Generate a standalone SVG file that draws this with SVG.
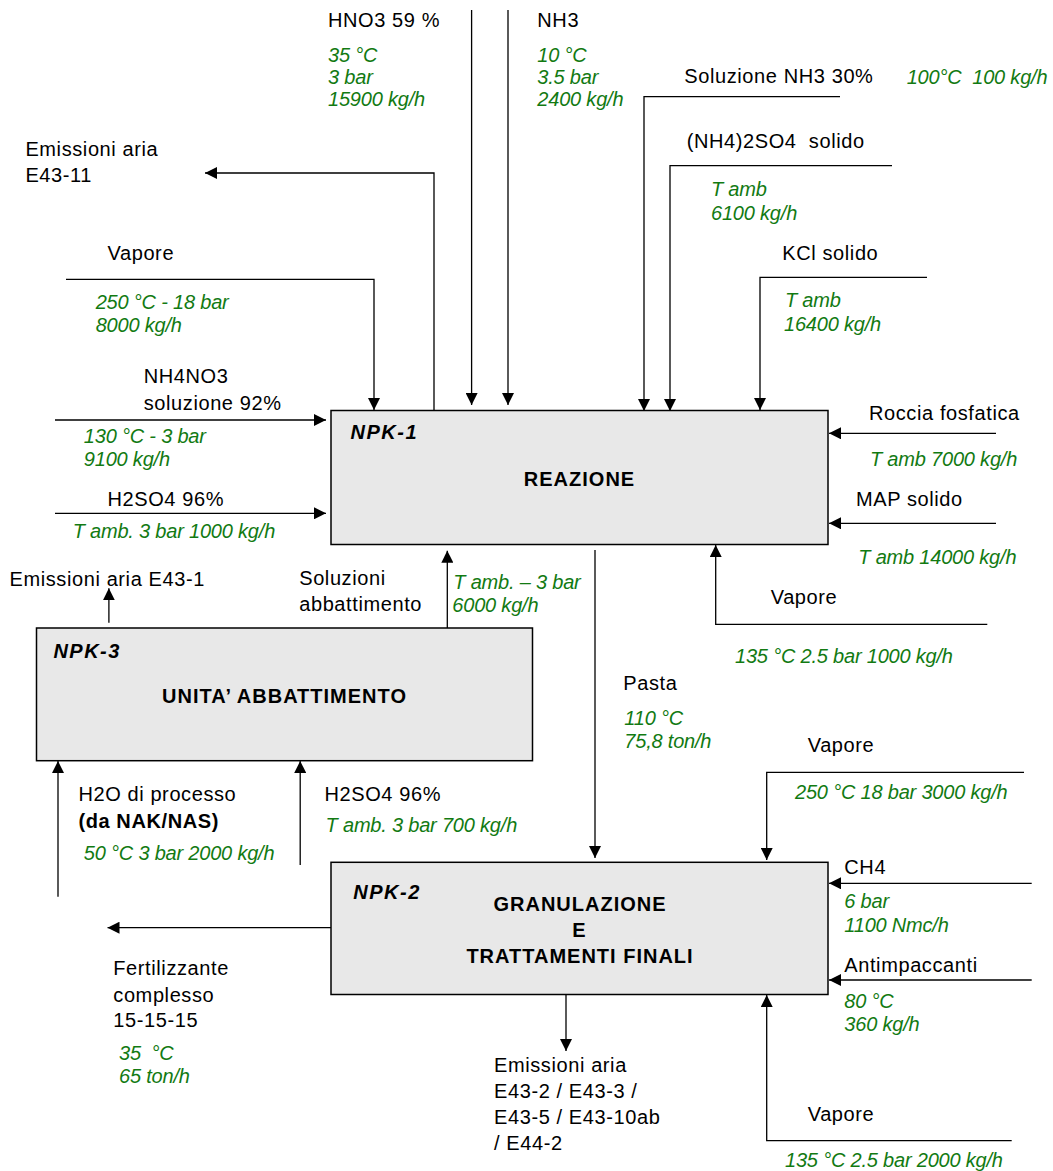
<svg xmlns="http://www.w3.org/2000/svg" width="1053" height="1171" viewBox="0 0 1053 1171">
<style>
text{font-family:'Liberation Sans',Arial,sans-serif;font-size:20px;fill:#000;white-space:pre}
.t{letter-spacing:0.6px}
.g{fill:#127a12;font-style:italic;letter-spacing:-0.2px}
.id{font-weight:bold;font-style:italic;letter-spacing:1.5px}
.b{font-weight:bold;letter-spacing:1px}
.box{fill:#e8e8e8;stroke:#000;stroke-width:1.5}
.c{fill:none;stroke:#000;stroke-width:1.3}
.a{marker-end:url(#ah)}
</style>
<defs>
<marker id="ah" markerUnits="userSpaceOnUse" markerWidth="12" markerHeight="12" refX="12" refY="6" orient="auto">
<path d="M0,0 L12,6 L0,12 z" fill="#000"/>
</marker>
</defs>
<rect width="1053" height="1171" fill="#fff"/>

<g id="connectors">
<polyline class="c a" points="471.6,10 471.6,405"/>
<polyline class="c a" points="508,10 508,405"/>
<polyline class="c a" points="434,410 434,173 205,173"/>
<polyline class="c a" points="66,279.3 374,279.3 374,410"/>
<polyline class="c a" points="55,420 326,420"/>
<polyline class="c a" points="55,513.3 326,513.3"/>
<polyline class="c a" points="840,96.7 644,96.7 644,411"/>
<polyline class="c a" points="892,165.7 670,165.7 670,411"/>
<polyline class="c a" points="927,277.3 760,277.3 760,410"/>
<polyline class="c a" points="996,433.3 829,433.3"/>
<polyline class="c a" points="996,523.3 829,523.3"/>
<polyline class="c a" points="987.3,624.3 715.7,624.3 715.7,545"/>
<polyline class="c a" points="447.3,628 447.3,550.7"/>
<polyline class="c a" points="108.9,622.7 108.9,588.3"/>
<polyline class="c a" points="58,896.7 58,761"/>
<polyline class="c a" points="300.2,865 300.2,761"/>
<polyline class="c a" points="595,550 595,858"/>
<polyline class="c a" points="331,927.7 107.5,927.7"/>
<polyline class="c a" points="1024,772.3 766.7,772.3 766.7,860"/>
<polyline class="c a" points="1031.7,883.3 829,883.3"/>
<polyline class="c a" points="1031.7,980 829,980"/>
<polyline class="c a" points="1011.7,1140.7 766.7,1140.7 766.7,995"/>
<polyline class="c a" points="566,995 566,1051"/>
</g>

<g id="NPK-1">
<rect class="box" x="331" y="410.5" width="497" height="134"/>
<text class="id" x="350.5" y="439">NPK-1</text>
<text class="b" x="579.5" y="486" text-anchor="middle">REAZIONE</text>
</g>

<g id="NPK-3">
<rect class="box" x="36.5" y="628" width="496" height="132.7"/>
<text class="id" x="53.4" y="658.3">NPK-3</text>
<text class="b" x="284.5" y="702.7" text-anchor="middle">UNITA’ ABBATTIMENTO</text>
</g>

<g id="NPK-2">
<rect class="box" x="331" y="862.3" width="497" height="132.2"/>
<text class="id" x="353.3" y="898.5">NPK-2</text>
<text class="b" x="580" y="911" text-anchor="middle">GRANULAZIONE</text>
<text class="b" x="579.5" y="936.7" text-anchor="middle">E</text>
<text class="b" x="580" y="962.7" text-anchor="middle">TRATTAMENTI FINALI</text>
</g>

<g id="labels">
<text class="t" x="328" y="27.3">HNO3 59 %</text>
<text class="g" x="328" y="61.7">35 °C</text>
<text class="g" x="328" y="84">3 bar</text>
<text class="g" x="328" y="106.3">15900 kg/h</text>

<text class="t" x="537.3" y="27.3">NH3</text>
<text class="g" x="537.3" y="61.7">10 °C</text>
<text class="g" x="537.3" y="84">3.5 bar</text>
<text class="g" x="537.3" y="106.3">2400 kg/h</text>

<text class="t" x="684.3" y="83.3">Soluzione NH3 30%</text>
<text class="g" x="906.7" y="84">100°C  100 kg/h</text>

<text class="t" x="686.7" y="147.7">(NH4)2SO4  solido</text>
<text class="g" x="711" y="196">T amb</text>
<text class="g" x="711" y="220">6100 kg/h</text>

<text class="t" x="782.3" y="260">KCl solido</text>
<text class="g" x="785" y="306.5">T amb</text>
<text class="g" x="784" y="330.7">16400 kg/h</text>

<text class="t" x="25.4" y="156">Emissioni aria</text>
<text class="t" x="25.4" y="181.7">E43-11</text>

<text class="t" x="107.5" y="260">Vapore</text>
<text class="g" x="95.7" y="309">250 °C - 18 bar</text>
<text class="g" x="95.7" y="331.7">8000 kg/h</text>

<text class="t" x="143.7" y="383.3">NH4NO3</text>
<text class="t" x="143.7" y="410">soluzione 92%</text>
<text class="g" x="83.8" y="443.3">130 °C - 3 bar</text>
<text class="g" x="83.8" y="466">9100 kg/h</text>

<text class="t" x="107.5" y="506">H2SO4 96%</text>
<text class="g" x="72.7" y="538.3">T amb. 3 bar 1000 kg/h</text>

<text class="t" x="869" y="420">Roccia fosfatica</text>
<text class="g" x="870" y="465.7">T amb 7000 kg/h</text>
<text class="t" x="856" y="506">MAP solido</text>
<text class="g" x="858.3" y="564">T amb 14000 kg/h</text>

<text class="t" x="770.7" y="604">Vapore</text>
<text class="g" x="735" y="663.3">135 °C 2.5 bar 1000 kg/h</text>

<text class="t" x="9.5" y="586">Emissioni aria E43-1</text>
<text class="t" x="299.2" y="585">Soluzioni</text>
<text class="t" x="299.2" y="611">abbattimento</text>
<text class="g" x="453.3" y="589.3">T amb. – 3 bar</text>
<text class="g" x="452.3" y="612.3">6000 kg/h</text>

<text class="t" x="623.3" y="690">Pasta</text>
<text class="g" x="624.3" y="725">110 °C</text>
<text class="g" x="624.3" y="748.3">75,8 ton/h</text>

<text class="t" x="78.4" y="800.7">H2O di processo</text>
<text class="t" x="78.4" y="827.7" font-weight="bold">(da NAK/NAS)</text>
<text class="g" x="83.8" y="860">50 °C 3 bar 2000 kg/h</text>
<text class="t" x="324.5" y="800.7">H2SO4 96%</text>
<text class="g" x="325.6" y="831.7">T amb. 3 bar 700 kg/h</text>

<text class="t" x="807.7" y="752.3">Vapore</text>
<text class="g" x="795" y="799">250 °C 18 bar 3000 kg/h</text>

<text class="t" x="844.3" y="874">CH4</text>
<text class="g" x="844.3" y="908.3">6 bar</text>
<text class="g" x="844.3" y="931.7">1100 Nmc/h</text>
<text class="t" x="844.3" y="971.7">Antimpaccanti</text>
<text class="g" x="844.3" y="1008.3">80 °C</text>
<text class="g" x="844.3" y="1031">360 kg/h</text>

<text class="t" x="807.7" y="1120.7">Vapore</text>
<text class="g" x="785" y="1166.7">135 °C 2.5 bar 2000 kg/h</text>

<text class="t" x="113.3" y="975">Fertilizzante</text>
<text class="t" x="113.3" y="1002.3">complesso</text>
<text class="t" x="113.3" y="1027.3">15-15-15</text>
<text class="g" x="119" y="1060">35  °C</text>
<text class="g" x="119" y="1083.3">65 ton/h</text>

<text class="t" x="494" y="1071.7">Emissioni aria</text>
<text class="t" x="494" y="1098.3">E43-2 / E43-3 /</text>
<text class="t" x="494" y="1124.3">E43-5 / E43-10ab</text>
<text class="t" x="494" y="1150">/ E44-2</text>
</g>
</svg>
